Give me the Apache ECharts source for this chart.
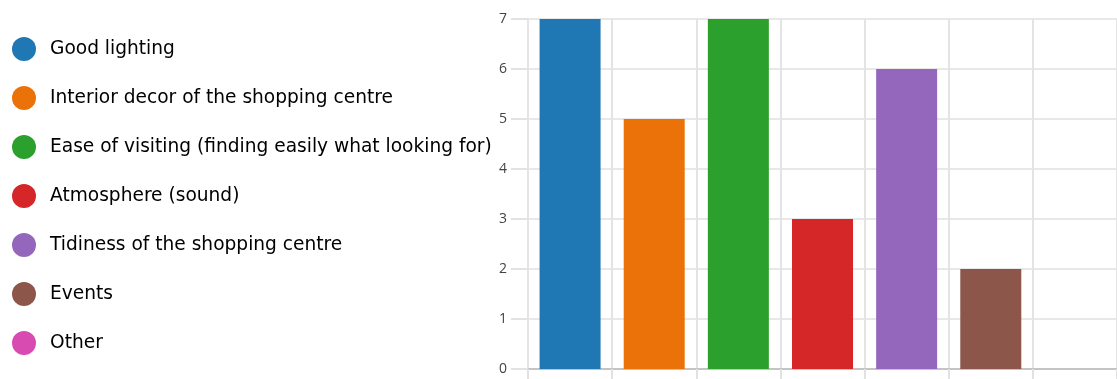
<!DOCTYPE html>
<html>
<head>
<meta charset="utf-8">
<script src="https://cdn.jsdelivr.net/npm/echarts@6/dist/echarts.min.js"></script>
<style>
  html, body { margin: 0; padding: 0; background: #fff; }
  #chart { width: 1117px; height: 379px; }
</style>
</head>
<body>
<div id="chart"></div>
<script>
// Survey answers: how many respondents picked each aspect
const categories = [
  'Good lighting',
  'Interior decor of the shopping centre',
  'Ease of visiting (finding easily what looking for)',
  'Atmosphere (sound)',
  'Tidiness of the shopping centre',
  'Events',
  'Other'
];
const counts = [7, 5, 7, 3, 6, 2, 0];
const colors = ['#1f77b4', '#eb7209', '#2ca02c', '#d62728', '#9467bd', '#8c564b', '#d84bb0'];
const yTicks = [0, 1, 2, 3, 4, 5, 6, 7];

// One series per answer so each gets its own legend entry; stacking keeps bars centred.
const series = categories.map((name, i) => ({
  name: name,
  type: 'bar',
  stack: 'answers',
  barWidth: 61,
  itemStyle: { color: colors[i] },
  emphasis: { disabled: true },
  data: categories.map((_, j) => (j === i ? counts[i] : '-'))
}));

const chart = echarts.init(document.getElementById('chart'), null, { renderer: 'canvas' });
chart.setOption({
  animation: false,
  legend: {
    orient: 'vertical',
    left: 12,
    top: 37,
    padding: 0,
    icon: 'circle',
    itemWidth: 24,
    itemHeight: 24,
    itemGap: 25,
    selectedMode: false,
    textStyle: {
      fontFamily: 'DejaVu Sans',
      fontSize: 18.6,
      lineHeight: 24,
      color: '#000',
      padding: [0, 0, 0, 9]
    },
    data: categories
  },
  // the plot runs off the right edge of the canvas
  grid: { left: 528, right: -3, top: 19, bottom: 10, containLabel: false },
  xAxis: {
    type: 'category',
    data: categories,
    boundaryGap: true,
    axisLine: { show: true, lineStyle: { color: '#c4c4c4', width: 2 } },
    axisTick: { show: true, interval: 0, length: 12, lineStyle: { color: '#e2e2e2', width: 2 } },
    axisLabel: { show: false, interval: 0 },
    splitLine: { show: true, interval: 0, lineStyle: { color: '#e4e4e4', width: 2 } }
  },
  yAxis: {
    type: 'value',
    min: yTicks[0],
    max: yTicks[yTicks.length - 1],
    interval: 1,
    axisLine: { show: false },
    axisTick: { show: true, length: 17, lineStyle: { color: '#e2e2e2', width: 2 } },
    axisLabel: { color: '#444', fontSize: 14, fontFamily: 'Open Sans', margin: 21 },
    splitLine: { show: true, lineStyle: { color: '#e8e8e8', width: 2 } }
  },
  series: series
});
</script>
</body>
</html>
